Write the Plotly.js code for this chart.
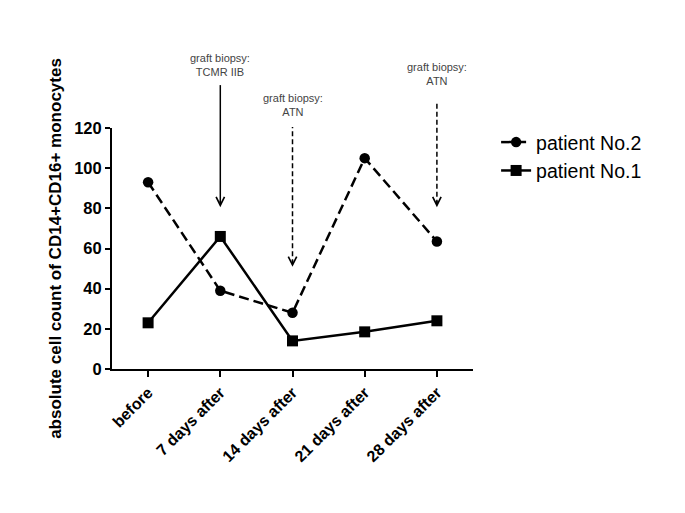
<!DOCTYPE html>
<html>
<head>
<meta charset="utf-8">
<script src="https://cdn.plot.ly/plotly-3.0.1.min.js"></script>
<style>html,body{margin:0;padding:0;background:#fff;}#chart{width:685px;height:513px;}</style>
</head>
<body>
<div id="chart"></div>
<script>
var categories = ['before', '7 days after', '14 days after', '21 days after', '28 days after'];
var patient2 = [93, 39, 28, 105, 63.5];
var patient1 = [23, 66, 14, 18.5, 24];
var yTicks = [0, 20, 40, 60, 80, 100, 120];

var biopsyIndex = [1, 2, 4];
var biopsyText = ['graft biopsy:<br>TCMR IIB', 'graft biopsy:<br>ATN', 'graft biopsy:<br>ATN'];
var biopsyDashed = [false, true, true];
var arrowHeadY = [80.6, 50.9, 80.6];
var arrowTopPaper = [1.178, 1.004, 1.112];
var textBottomPaper = [1.2, 1.035, 1.16];

var xRange = [-0.5, 4.5];
var yRange = [0, 120];
var FONT = 'Liberation Sans, Arial, sans-serif';

var traces = [
  {
    x: categories, y: patient2, name: 'patient No.2', type: 'scatter', mode: 'lines+markers',
    line: {color: '#000', width: 2.5, dash: '10px,5px'},
    marker: {symbol: 'circle', size: 10.5, color: '#000'}
  },
  {
    x: categories, y: patient1, name: 'patient No.1', type: 'scatter', mode: 'lines+markers',
    line: {color: '#000', width: 2.5},
    marker: {symbol: 'square', size: 11, color: '#000'}
  }
];

var shapes = [];
var annotations = [];
for (var i = 0; i < biopsyIndex.length; i++) {
  var px = (biopsyIndex[i] - xRange[0]) / (xRange[1] - xRange[0]);
  shapes.push({
    type: 'line', xref: 'paper', yref: 'paper',
    x0: px, x1: px,
    y0: (arrowHeadY[i] - yRange[0]) / (yRange[1] - yRange[0]) + 0.01, y1: arrowTopPaper[i],
    line: {color: '#000', width: 1.5, dash: biopsyDashed[i] ? '5px,3px' : 'solid'}
  });
  annotations.push({
    x: categories[biopsyIndex[i]], y: arrowHeadY[i], xref: 'x', yref: 'y',
    text: '', showarrow: true, ax: 0, ay: -8,
    arrowhead: 5, arrowsize: 1.1, arrowwidth: 1.5, arrowcolor: '#000'
  });
  annotations.push({
    x: px, y: textBottomPaper[i], xref: 'paper', yref: 'paper',
    xanchor: 'center', yanchor: 'bottom', showarrow: false,
    text: biopsyText[i],
    font: {family: FONT, size: 11, color: '#444'}
  });
}

var layout = {
  width: 685, height: 513,
  margin: {l: 112, r: 212, t: 128, b: 144, pad: 0},
  paper_bgcolor: '#fff', plot_bgcolor: '#fff',
  showlegend: true,
  legend: {
    x: 1.064, xanchor: 'left', y: 1.021, yanchor: 'top',
    font: {family: FONT, size: 19.5, color: '#000'},
    bgcolor: 'rgba(0,0,0,0)', itemwidth: 30
  },
  xaxis: {
    type: 'category', range: xRange, categoryorder: 'array', categoryarray: categories,
    showline: true, linecolor: '#000', linewidth: 2, mirror: false,
    ticks: 'outside', ticklen: 6, tickwidth: 2, tickcolor: '#000',
    tickangle: -45, showgrid: false, zeroline: false,
    tickfont: {family: FONT, size: 16, color: '#000', weight: 'bold'}
  },
  yaxis: {
    range: yRange, tickvals: yTicks, ticktext: yTicks.map(String),
    showline: true, linecolor: '#000', linewidth: 2,
    ticks: 'outside', ticklen: 5, tickwidth: 2, tickcolor: '#000',
    showgrid: false, zeroline: false,
    tickfont: {family: FONT, size: 16.5, color: '#000', weight: 'bold'},
    title: {text: 'absolute cell count of CD14+CD16+ monocytes', standoff: 8,
            font: {family: FONT, size: 17, color: '#000', weight: 'bold'}}
  },
  shapes: shapes,
  annotations: annotations
};

Plotly.newPlot('chart', traces, layout, {displayModeBar: false, staticPlot: true});
</script>
</body>
</html>
